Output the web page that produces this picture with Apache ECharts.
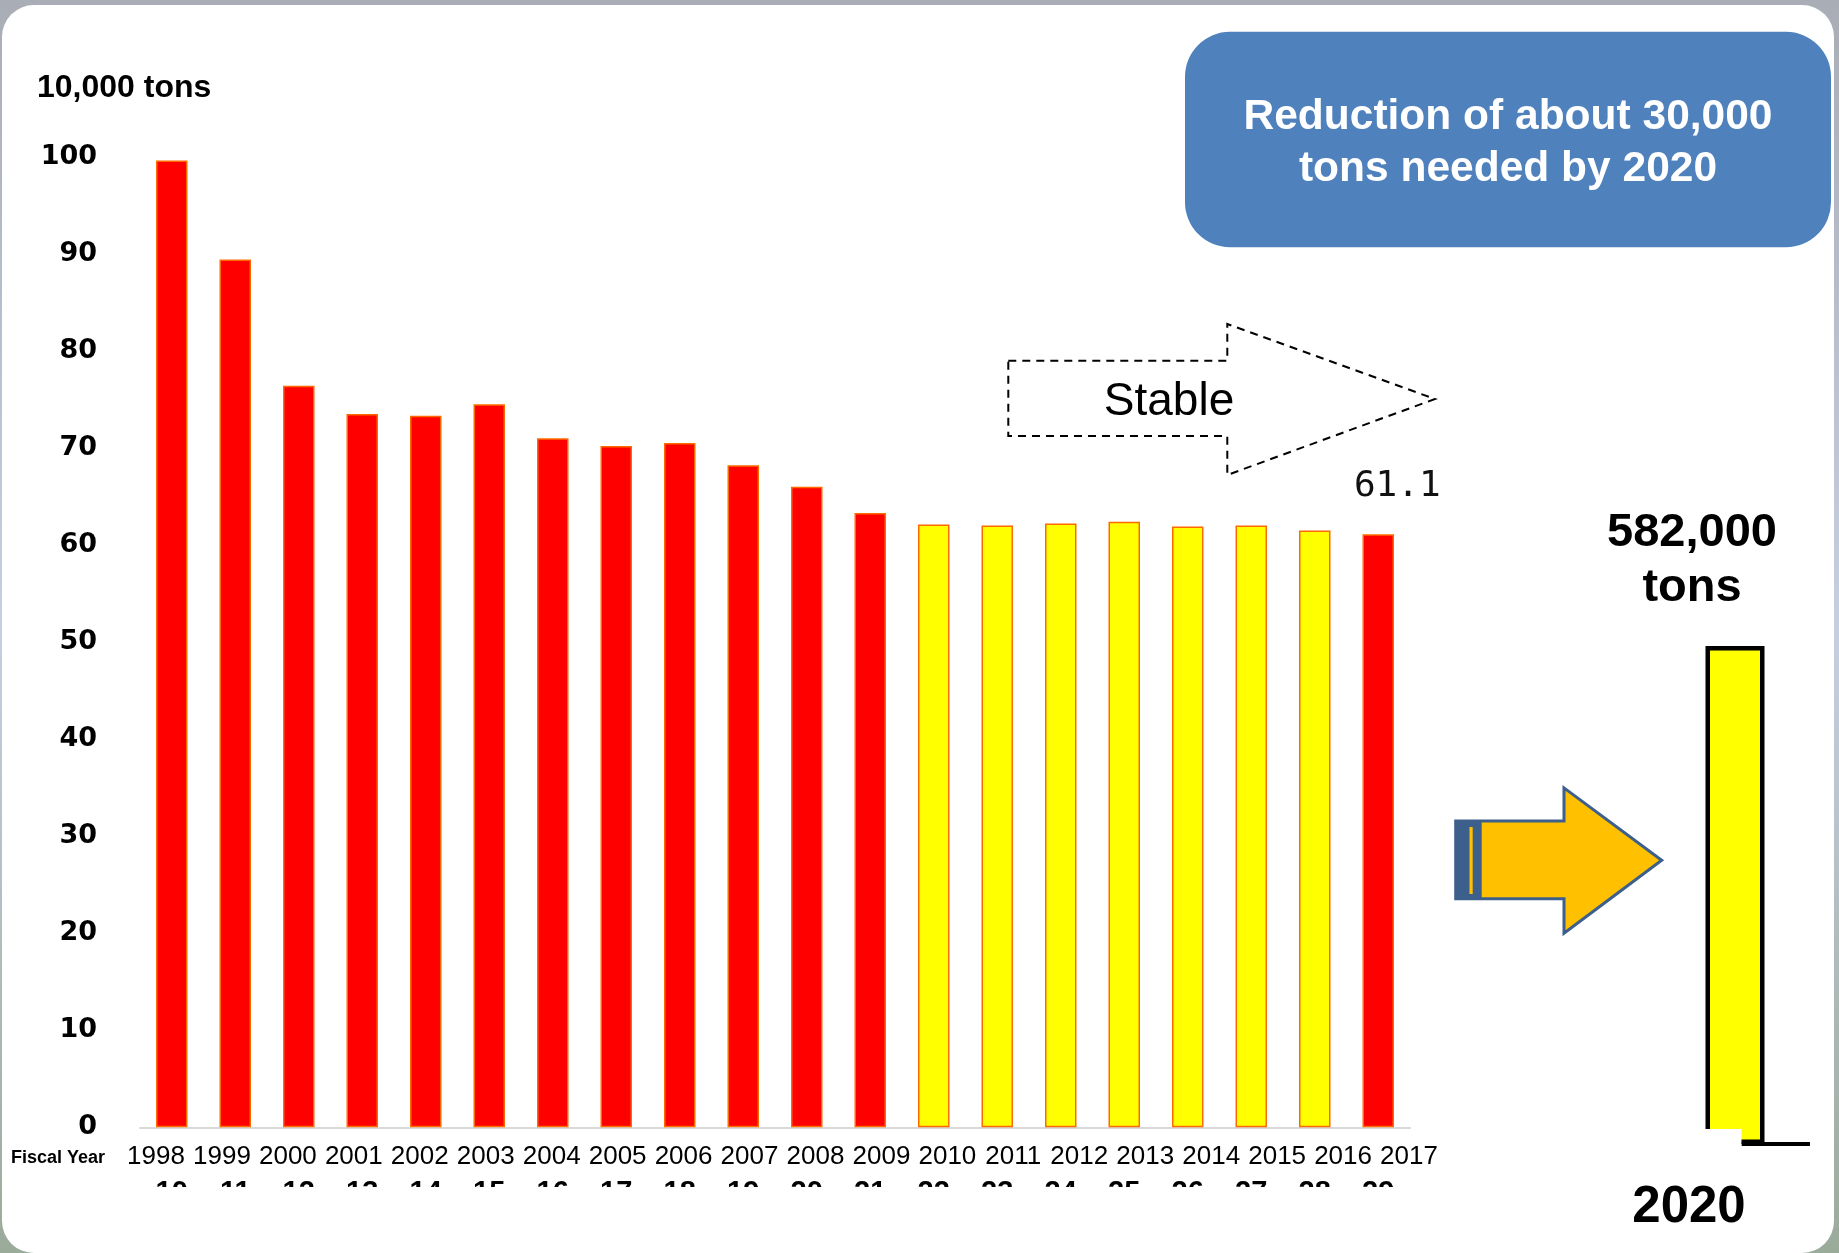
<!DOCTYPE html>
<html>
<head>
<meta charset="utf-8">
<title>Fiscal year amounts</title>
<script src="https://cdn.jsdelivr.net/npm/echarts@6/dist/echarts.min.js"></script>
<style>
  html, body { margin: 0; padding: 0; background: #fff; }
  #chart { width: 1839px; height: 1253px; }
</style>
</head>
<body>
<div id="chart"></div>
<script>
// fiscal years (western) and the same years in the Heisei era
var years = ['1998', '1999', '2000', '2001', '2002', '2003', '2004', '2005', '2006', '2007',
  '2008', '2009', '2010', '2011', '2012', '2013', '2014', '2015', '2016', '2017']
var heiseiYears = ['10', '11', '12', '13', '14', '15', '16', '17', '18', '19',
  '20', '21', '22', '23', '24', '25', '26', '27', '28', '29']
// unit: 10,000 tons
var amounts = [99.6, 89.4, 76.4, 73.5, 73.3, 74.5, 71.0, 70.2, 70.5, 68.2,
  66.0, 63.3, 62.1, 62.0, 62.2, 62.4, 61.9, 62.0, 61.5, 61.1]
var stableYears = ['2010', '2011', '2012', '2013', '2014', '2015', '2016']
var targetYear = ['2020']
var targetAmount = [58.2]

var chart = echarts.init(document.getElementById('chart'))

var barData = amounts.map(function (v, i) {
  var item = { value: v }
  if (i === amounts.length - 1) {
    item.label = {
      show: true,
      position: 'top',
      distance: 30,
      offset: [19, 0],
      formatter: '{c}',
      fontFamily: 'DejaVu Sans Mono',
      fontSize: 36,
      color: '#111'
    }
  }
  return item
})

chart.setOption({
  animation: false,
  backgroundColor: {
    type: 'linear', x: 0, y: 0, x2: 0, y2: 1,
    colorStops: [
      { offset: 0, color: '#a9adb5' },
      { offset: 0.5, color: '#c6cfe2' },
      { offset: 1, color: '#9aab9a' }
    ]
  },
  grid: [
    { left: 140, width: 1270, top: 156.7, height: 970.6, containLabel: false, outerBoundsMode: 'none' },
    { left: 123, width: 1319, top: 156.7, height: 970.6, containLabel: false, outerBoundsMode: 'none' },
    { left: 1703, width: 64, top: 288.3, height: 855.7, containLabel: false, outerBoundsMode: 'none' }
  ],
  xAxis: [
    {
      gridIndex: 0,
      type: 'category',
      data: heiseiYears,
      axisLine: { show: true, lineStyle: { color: '#d9d9d9', width: 2 } },
      axisTick: { show: false },
      axisLabel: {
        interval: 0,
        margin: 51,
        color: '#000',
        fontFamily: 'Liberation Sans',
        fontWeight: 'bold',
        fontSize: 29
      },
      splitLine: { show: false }
    },
    {
      gridIndex: 1,
      type: 'category',
      data: years,
      axisLine: { show: false },
      axisTick: { show: false },
      axisLabel: {
        interval: 0,
        margin: 17,
        color: '#000',
        fontFamily: 'Liberation Sans',
        fontSize: 26
      },
      splitLine: { show: false }
    },
    {
      gridIndex: 2,
      type: 'category',
      data: targetYear,
      axisLine: { show: false },
      axisTick: { show: false },
      axisLabel: {
        margin: 38,
        padding: [0, 92, 0, 0],
        color: '#000',
        fontFamily: 'Liberation Sans',
        fontWeight: 'bold',
        fontSize: 51
      },
      splitLine: { show: false }
    }
  ],
  yAxis: [
    {
      gridIndex: 0,
      type: 'value',
      min: 0,
      max: 100,
      interval: 10,
      axisLine: { show: false },
      axisTick: { show: false },
      splitLine: { show: false },
      axisLabel: {
        margin: 43,
        padding: [0, 0, 8, 0],
        color: '#000',
        fontFamily: 'DejaVu Sans',
        fontWeight: 'bold',
        fontSize: 27
      }
    },
    { gridIndex: 1, type: 'value', min: 0, max: 100, show: false },
    { gridIndex: 2, type: 'value', min: 0, max: 100, show: false }
  ],
  series: [
    {
      type: 'bar',
      xAxisIndex: 0,
      yAxisIndex: 0,
      barWidth: 31.5,
      data: barData,
      itemStyle: {
        color: function (p) {
          return stableYears.indexOf(years[p.dataIndex]) >= 0 ? '#ffff00' : '#ff0000'
        },
        borderColor: '#ff6a00',
        borderWidth: 1.5
      }
    },
    {
      type: 'bar',
      xAxisIndex: 2,
      yAxisIndex: 2,
      barWidth: 59,
      data: targetAmount,
      itemStyle: { color: '#ffff00', borderColor: '#000', borderWidth: 4.5 },
      label: {
        show: true,
        position: 'top',
        distance: 30,
        offset: [-43, 0],
        formatter: function (p) {
          return (p.value * 10000).toLocaleString('en-US') + '\ntons'
        },
        fontFamily: 'Liberation Sans',
        fontWeight: 'bold',
        fontSize: 47,
        lineHeight: 55,
        color: '#000'
      }
    }
  ],
  graphic: [
    // white panel
    {
      type: 'rect', z: -100,
      shape: { x: 2, y: 5, width: 1832, height: 1248, r: 32 },
      style: { fill: '#fff' }
    },
    // hide the lower part of the era-year row
    {
      type: 'rect', z: 50,
      shape: { x: 110, y: 1187, width: 1345, height: 50 },
      style: { fill: '#fff' }
    },
    // 2020 bar foot
    {
      type: 'rect', z: 50,
      shape: { x: 1699, y: 1129, width: 42.5, height: 22 },
      style: { fill: '#fff' }
    },
    {
      type: 'line', z: 51,
      shape: { x1: 1741.7, y1: 1144, x2: 1810, y2: 1144 },
      style: { stroke: '#000', lineWidth: 4 }
    },
    {
      type: 'text', z: 10,
      style: {
        text: '10,000 tons', x: 37, y: 88,
        align: 'left', verticalAlign: 'middle',
        textAlign: 'left', textVerticalAlign: 'middle',
        font: 'bold 32px "Liberation Sans"', fill: '#000'
      }
    },
    {
      type: 'text', z: 10,
      style: {
        text: 'Fiscal Year', x: 11, y: 1158,
        align: 'left', verticalAlign: 'middle',
        textAlign: 'left', textVerticalAlign: 'middle',
        font: 'bold 18px "Liberation Sans"', fill: '#000'
      }
    },
    // blue message box
    {
      type: 'rect', z: 10,
      shape: { x: 1185, y: 31.7, width: 646, height: 215.6, r: 45 },
      style: { fill: '#4f81bd' }
    },
    {
      type: 'text', z: 11,
      style: {
        text: 'Reduction of about 30,000\ntons needed by 2020', x: 1508, y: 143.5,
        align: 'center', verticalAlign: 'middle',
        textAlign: 'center', textVerticalAlign: 'middle',
        font: 'bold 42.5px "Liberation Sans"', lineHeight: 52, fill: '#fff'
      }
    },
    // dashed "Stable" arrow
    {
      type: 'polygon', z: 10,
      shape: {
        points: [[1008.3, 360.7], [1227.3, 360.7], [1227.3, 324], [1435, 399],
          [1227.3, 475], [1227.3, 436], [1008.3, 436]]
      },
      style: { fill: 'none', stroke: '#000', lineWidth: 2, lineDash: [8, 6] }
    },
    {
      type: 'text', z: 11,
      style: {
        text: 'Stable', x: 1169, y: 402,
        align: 'center', verticalAlign: 'middle',
        textAlign: 'center', textVerticalAlign: 'middle',
        font: '46px "Liberation Sans"', fill: '#000'
      }
    },
    // orange block arrow
    {
      type: 'polygon', z: 10,
      shape: {
        points: [[1455.7, 820.9], [1564, 820.9], [1564, 787.9], [1661.7, 860.3],
          [1564, 933.2], [1564, 898.7], [1455.7, 898.7]]
      },
      style: { fill: '#ffc000', stroke: '#3c5f8c', lineWidth: 3 }
    },
    {
      type: 'rect', z: 11,
      shape: { x: 1455.7, y: 820.9, width: 26, height: 77.8 },
      style: { fill: '#3c5f8c' }
    },
    {
      type: 'rect', z: 12,
      shape: { x: 1469.5, y: 827, width: 3.2, height: 67 },
      style: { fill: '#ffc000' }
    }
  ]
})
</script>
</body>
</html>
